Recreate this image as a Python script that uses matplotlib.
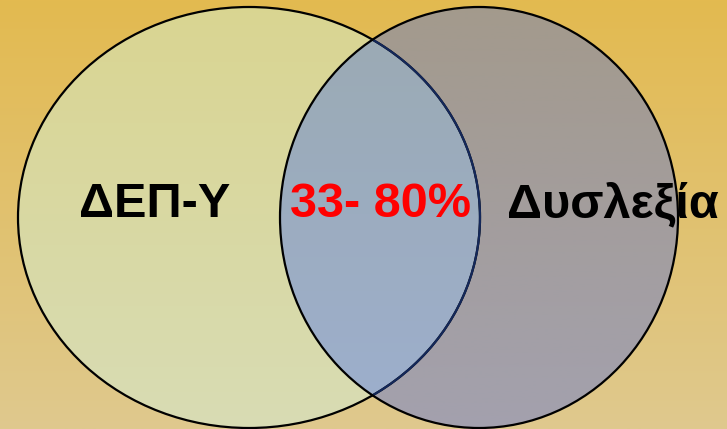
import numpy as np
import matplotlib
matplotlib.use("Agg")
import matplotlib.pyplot as plt
from matplotlib.patches import Ellipse, PathPatch
from matplotlib.path import Path

# ---- data ----
set_labels = ["ΔΕΠ-Υ", "Δυσλεξία"]
overlap_label = "33- 80%"

# ---- colours (top, bottom) ----
bg_cols = ["#E3BA50", "#DFC98E"]
left_cols = ["#DAD591", "#D8DCB4"]
right_cols = ["#A39A8C", "#A3A1AE"]
inter_cols = ["#9BAAB2", "#9DAFCE"]

W, H = 727, 429
fig = plt.figure(figsize=(W / 100, H / 100), dpi=100)
ax = fig.add_axes([0, 0, 1, 1])
ax.set_axis_off()


def grad(c0, c1, n=256):
    a = np.array(matplotlib.colors.to_rgb(c0))
    b = np.array(matplotlib.colors.to_rgb(c1))
    t = np.linspace(0, 1, n)[:, None]
    return (a * (1 - t) + b * t)[:, None, :]


# geometry (pixels)
c1, a1 = 249.0, 231.0
c2, a2 = 479.0, 199.0
cy, b = 217.5, 210.5

# background
ax.imshow(grad(*bg_cols), extent=(0, W, H, 0), aspect="auto", origin="upper", zorder=0)

e_left = Ellipse((c1, cy), 2 * a1, 2 * b, facecolor="none", edgecolor="none")
e_right = Ellipse((c2, cy), 2 * a2, 2 * b, facecolor="none", edgecolor="none")
ax.add_patch(e_left)
ax.add_patch(e_right)

im = ax.imshow(grad(*left_cols), extent=(0, W, H, 0), aspect="auto", origin="upper", zorder=1)
im.set_clip_path(e_left)
im = ax.imshow(grad(*right_cols), extent=(0, W, H, 0), aspect="auto", origin="upper", zorder=1)
im.set_clip_path(e_right)

# intersection region
xi = (c1 * a2 + c2 * a1) / (a1 + a2)
th1 = np.arccos((xi - c1) / a1)
th2 = np.arccos((xi - c2) / a2)
t_r = np.linspace(-th1, th1, 200)           # right arc of left ellipse
pts1 = np.c_[c1 + a1 * np.cos(t_r), cy + b * np.sin(t_r)]
t_l = np.linspace(th2, 2 * np.pi - th2, 200)  # left arc of right ellipse
pts2 = np.c_[c2 + a2 * np.cos(t_l), cy + b * np.sin(t_l)]
verts = np.vstack([pts1, pts2, pts1[:1]])
codes = [Path.MOVETO] + [Path.LINETO] * (len(verts) - 2) + [Path.CLOSEPOLY]
inter_path = Path(verts, codes)
inter_patch = PathPatch(inter_path, facecolor="none", edgecolor="none")
ax.add_patch(inter_patch)
im = ax.imshow(grad(*inter_cols), extent=(0, W, H, 0), aspect="auto", origin="upper", zorder=2)
im.set_clip_path(inter_patch)

# text
font = "Liberation Sans"
ax.text(155, 217, set_labels[0], fontsize=35, fontweight="bold", family=font,
        ha="center", va="baseline", color="black", zorder=3)
ax.text(613, 217, set_labels[1], fontsize=35, fontweight="bold", family=font,
        ha="center", va="baseline", color="black", zorder=3)
ax.text(381, 217, overlap_label, fontsize=35, fontweight="bold", family=font,
        ha="center", va="baseline", color="#FF0000", zorder=3)

# outlines
ax.add_patch(Ellipse((c1, cy), 2 * a1, 2 * b, facecolor="none", edgecolor="black", lw=1.6, zorder=4))
ax.add_patch(PathPatch(Path(pts1), facecolor="none", edgecolor="#14285A", lw=1.6, zorder=5))
ax.add_patch(Ellipse((c2, cy), 2 * a2, 2 * b, facecolor="none", edgecolor="black", lw=1.6, zorder=6))

ax.set_xlim(0, W)
ax.set_ylim(H, 0)
fig.savefig("out.png", dpi=100)
